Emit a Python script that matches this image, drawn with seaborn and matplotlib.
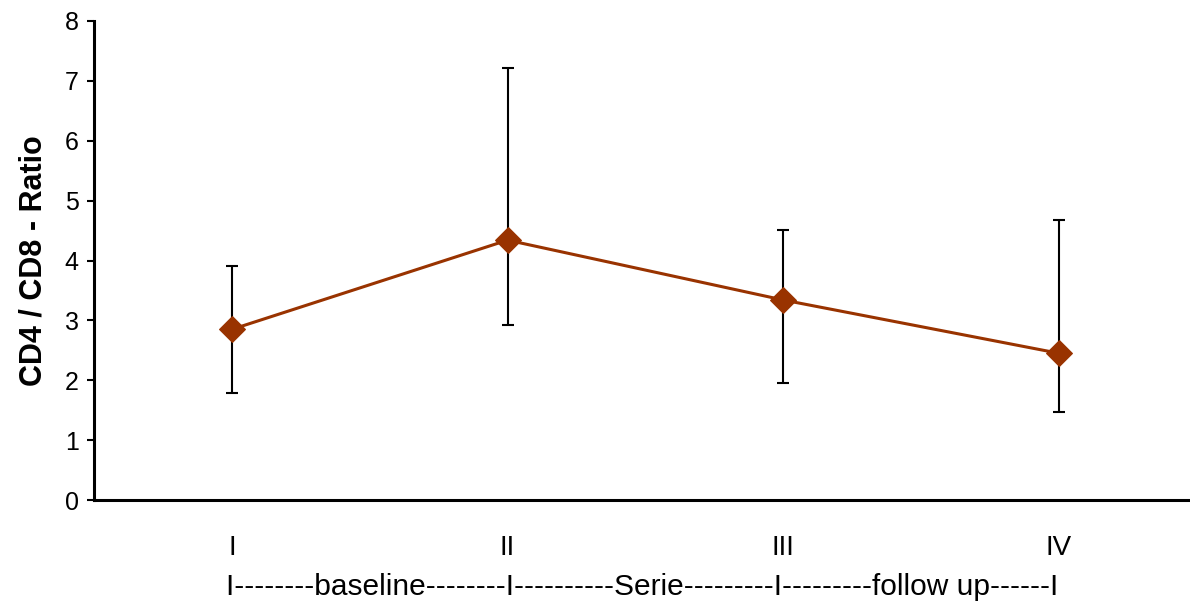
import matplotlib
matplotlib.use("Agg")
import matplotlib.pyplot as plt
import seaborn as sns
import numpy as np
import pandas as pd

categories = ["I", "II", "III", "IV"]
means = [2.85, 4.34, 3.34, 2.45]
upper = [3.91, 7.21, 4.51, 4.67]
lower = [1.79, 2.92, 1.95, 1.47]
xlabel_text = "I--------baseline--------I----------Serie---------I---------follow up------I"
ylabel_text = "CD4 / CD8 - Ratio"
yticks = [0, 1, 2, 3, 4, 5, 6, 7, 8]

sns.set_style("ticks")
plt.rcParams["font.family"] = ["Liberation Sans", "DejaVu Sans"]
plt.rcParams["text.color"] = "black"
plt.rcParams["axes.labelcolor"] = "black"
plt.rcParams["xtick.color"] = "black"
plt.rcParams["ytick.color"] = "black"

fig = plt.figure(figsize=(11.9, 6.1), dpi=100)
ax = fig.add_axes([94 / 1190, 110 / 610, 1 - 94 / 1190, (500 - 21) / 610])

pos = np.arange(len(categories))
df = pd.DataFrame({"x": pos, "y": means})
color = "#993300"

m = np.array(means)
yerr = np.vstack([m - np.array(lower), np.array(upper) - m])
ax.errorbar(pos, means, yerr=yerr, fmt="none", ecolor="black", elinewidth=1.5,
            capsize=4, capthick=1.5, zorder=2)
sns.lineplot(data=df, x="x", y="y", ax=ax, color=color, linewidth=2.2,
             marker="D", markersize=13, markeredgecolor=color, zorder=3)

ax.set_xlim(-0.5, 3.475)
ax.set_ylim(0, 8)
ax.set_yticks(yticks)
ax.set_xticks(pos)
ax.set_xticklabels(categories)
ax.tick_params(axis="x", length=0, pad=25, labelsize=20)
ax.tick_params(axis="y", length=5, width=1.5, pad=6, labelsize=18, direction="out")
ax.set_xlabel(xlabel_text, fontsize=21.5, labelpad=9)
ax.set_ylabel(ylabel_text, fontsize=22, fontweight="bold", labelpad=12)
for s in ["top", "right"]:
    ax.spines[s].set_visible(False)
for s in ["left", "bottom"]:
    ax.spines[s].set_linewidth(2.2)
    ax.spines[s].set_color("black")
ax.grid(False)

fig.savefig("out.png", dpi=100)
